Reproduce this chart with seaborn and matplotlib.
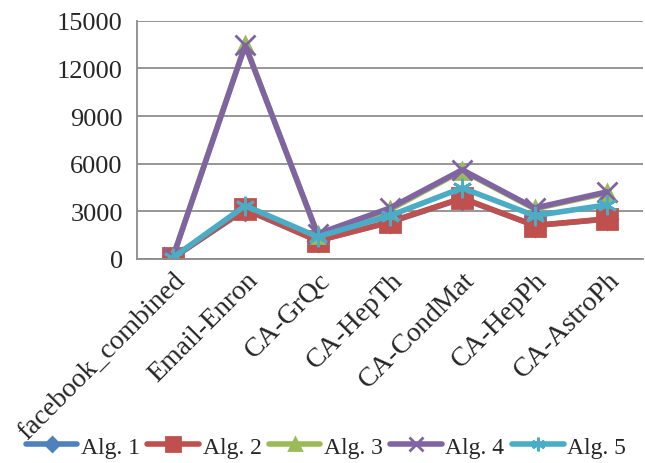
import matplotlib
matplotlib.use("Agg")
import matplotlib.pyplot as plt
import seaborn as sns
import pandas as pd

categories = ["facebook_combined", "Email-Enron", "CA-GrQc", "CA-HepTh",
              "CA-CondMat", "CA-HepPh", "CA-AstroPh"]
alg1 = [60, 3100, 1150, 2300, 3800, 2100, 2500]
alg2 = [60, 3150, 1130, 2330, 3830, 2100, 2520]
alg3 = [120, 13500, 1500, 3100, 5550, 3150, 4150]
alg4 = [100, 13450, 1575, 3200, 5610, 3200, 4220]
alg5 = [80, 3350, 1390, 2720, 4470, 2720, 3400]
series_names = ["Alg. 1", "Alg. 2", "Alg. 3", "Alg. 4", "Alg. 5"]
yticks = [0, 3000, 6000, 9000, 12000, 15000]

colors = ["#4F81BD", "#C0504D", "#9BBB59", "#8064A2", "#4BACC6"]
markers = ["D", "s", "^", "x", (6, 2, 0)]
msizes = [10, 14, 12, 14, 14]

sns.set_style("white")
plt.rcParams["font.family"] = ["Liberation Serif", "DejaVu Serif"]

fig = plt.figure(figsize=(6.45, 4.64), dpi=100)
ax = fig.add_axes([0.212, 0.44, 0.785, 0.513])

for name, vals, c, m, ms in zip(series_names, [alg1, alg2, alg3, alg4, alg5],
                                colors, markers, msizes):
    df = pd.DataFrame({"dataset": categories, "value": vals})
    sns.lineplot(data=df, x="dataset", y="value", ax=ax, color=c, lw=4,
                 marker=m, markersize=ms, markeredgecolor=c,
                 markeredgewidth=2, label=name, sort=False)

ax.set_xlim(-0.5, len(categories) - 0.5)
ax.set_ylim(0, 15000)
ax.set_yticks(yticks)
ax.set_yticklabels([str(v) for v in yticks], fontsize=19)
ax.set_xticks(range(len(categories)))
ax.set_xticklabels(categories, rotation=45, ha="right",
                   rotation_mode="anchor", fontsize=20)
ax.tick_params(axis="y", length=0, pad=10)
ax.tick_params(axis="x", length=0, pad=6)
ax.set_xlabel("")
ax.set_ylabel("")
ax.yaxis.grid(True, color="#8C8C8C", lw=1.3)
ax.set_axisbelow(True)
for s in ["top", "right"]:
    ax.spines[s].set_visible(False)
for s in ["left", "bottom"]:
    ax.spines[s].set_color("#8C8C8C")
    ax.spines[s].set_linewidth(1.3)

ax.get_legend().remove()
handles, labels = ax.get_legend_handles_labels()
fig.legend(handles, labels, loc="center", bbox_to_anchor=(0.505, 0.035),
           ncol=5, frameon=False, fontsize=17, handlelength=2.2,
           handletextpad=0.15, columnspacing=0.3, borderaxespad=0,
           markerscale=0.7)

fig.savefig("out.png", dpi=100)
